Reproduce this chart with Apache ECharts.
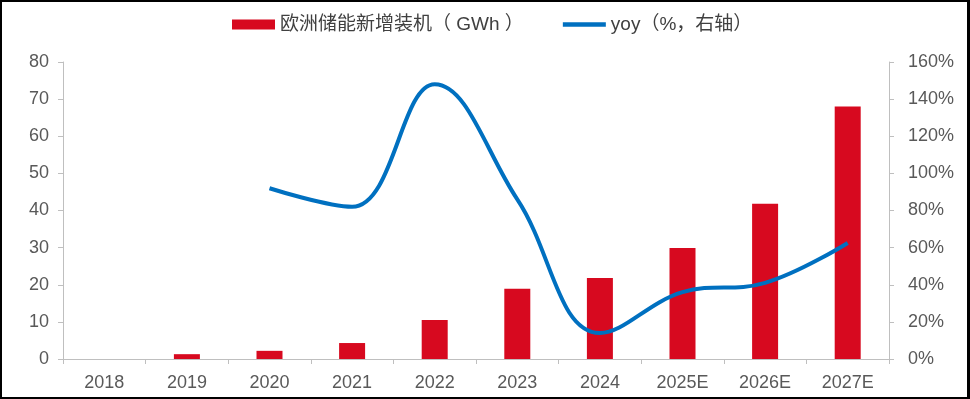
<!DOCTYPE html>
<html><head><meta charset="utf-8">
<script src="https://cdn.jsdelivr.net/npm/echarts@6/dist/echarts.min.js"></script>
<style>
html,body{margin:0;padding:0;background:#fff;}
#c{width:970px;height:399px;}
#frame{position:absolute;left:0;top:0;width:970px;height:399px;box-sizing:border-box;border-left:2px solid #000;border-top:2px solid #000;border-right:3px solid #000;border-bottom:2px solid #000;pointer-events:none;}
</style></head>
<body>
<div id="c"></div><div id="frame"></div>
<script>
const categories = ['2018','2019','2020','2021','2022','2023','2024','2025E','2026E','2027E'];
const installs = [0, 1.3, 2.2, 4.3, 10.5, 18.9, 21.8, 29.9, 41.8, 68.0];
const yoy = [null, null, 92, 82, 148, 86, 14, 36, 41, 62.5];
const barName = '欧洲储能新增装机（ GWh ）';
const lineName = 'yoy（%，右轴）';

const chart = echarts.init(document.getElementById('c'));
const font = 'Arial, "Liberation Sans", "Noto Sans CJK SC", sans-serif';
const axisColor = '#BFBFBF';
chart.setOption({
  animation:false,
  textStyle:{fontFamily:font},
  legend:{
    top:10, left:227, itemGap:39, itemWidth:43, itemHeight:10,
    textStyle:{fontSize:19, color:'#404040', fontFamily:font},
    data:[{name:barName, icon:'rect'}, {name:lineName, icon:'path://M0,0 L10,0 L10,1 L0,1 Z', itemStyle:{color:'#0070C0'}}]
  },
  grid:{left:63, right:81, top:62, bottom:40, containLabel:false},
  xAxis:{
    type:'category', data:categories, boundaryGap:true,
    axisLine:{lineStyle:{color:axisColor, width:1}},
    axisTick:{show:true, alignWithLabel:false, length:5, lineStyle:{color:axisColor}},
    axisLabel:{color:'#595959', fontSize:18, margin:15, fontFamily:font}
  },
  yAxis:[{
    type:'value', min:0, max:80, interval:10,
    axisLine:{show:true, lineStyle:{color:axisColor}},
    axisTick:{show:true, length:5, lineStyle:{color:axisColor}},
    splitLine:{show:false},
    axisLabel:{color:'#595959', fontSize:18, margin:14, fontFamily:font}
  },{
    type:'value', min:0, max:160, interval:20, position:'right',
    axisLine:{show:true, lineStyle:{color:axisColor}},
    axisTick:{show:true, length:5, lineStyle:{color:axisColor}},
    splitLine:{show:false},
    axisLabel:{color:'#595959', fontSize:18, margin:19, formatter:'{value}%', fontFamily:font}
  }],
  series:[{
    name:barName, type:'bar', data:installs, barWidth:26,
    itemStyle:{color:'#D7091F'}
  },{
    name:lineName, type:'line', yAxisIndex:1, data:yoy, smooth:0.4,
    showSymbol:false, symbol:'none', connectNulls:false,
    lineStyle:{color:'#0070C0', width:4}, itemStyle:{color:'#0070C0'}
  }]
});
</script>
</body></html>
